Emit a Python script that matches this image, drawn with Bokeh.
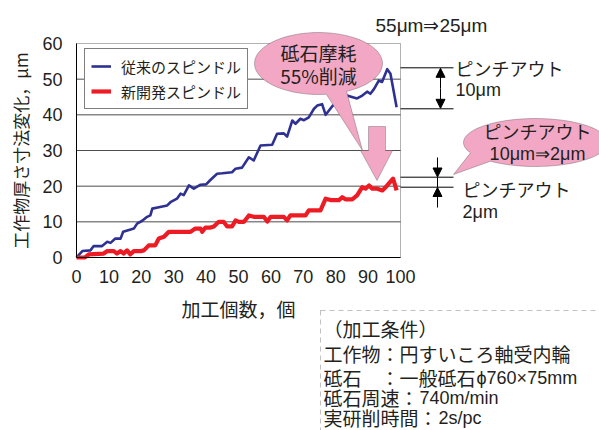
import math
from bokeh.plotting import figure
from bokeh.models import (Range1d, Label, PolyAnnotation, Arrow, NormalHead,
                          BoxAnnotation, Legend, LegendItem, FixedTicker)
from bokeh.embed import file_html
from bokeh.resources import INLINE

# ---------------- data ----------------
count_conv = [0, 1.8, 4.3, 5.3, 7.9, 9.5, 10.5, 12.0, 13.6, 14.4, 16.2, 17.7, 18.7, 20.3,
              21.8, 22.8, 23.4, 25.4, 28.0, 29.0, 31.0, 32.1, 33.1, 34.7, 36.2, 38.3, 40.0,
              41.4, 43.4, 45.0, 48.0, 49.1, 51.1, 53.2, 54.7, 56.8, 60.4, 61.9, 64.0, 65.0,
              66.6, 67.6, 69.1, 70.2, 71.7, 73.3, 74.3, 75.8, 76.9, 79.0, 81.0, 83.5, 85.0,
              86.6, 88.2, 89.7, 90.7, 91.8, 93.3, 94.3, 95.9, 96.9, 98.8]
thick_conv = [0, 1.8, 2.0, 3.2, 3.2, 4.4, 4.1, 5.3, 5.3, 7.2, 7.7, 8.1, 9.5, 10.3,
              11.4, 11.8, 13.7, 14.1, 14.6, 15.5, 16.5, 17.9, 17.5, 20.2, 19.3, 20.4, 20.5,
              21.8, 23.5, 23.6, 23.9, 24.9, 25.2, 28.1, 27.2, 31.4, 31.6, 34.7, 34.8, 33.9,
              38.4, 37.5, 38.9, 38.5, 39.3, 41.7, 42.6, 43.0, 40.0, 42.5, 44.0, 45.4, 45.0,
              44.6, 45.4, 46.5, 45.9, 47.2, 49.6, 49.2, 52.8, 51.5, 42.1]

count_new = [0, 2.6, 3.8, 8.4, 9.5, 11.5, 12.5, 13.6, 14.6, 15.6, 16.6, 17.7, 19.8, 20.8,
             22.3, 24.3, 25.4, 27.0, 28.5, 35.2, 36.7, 38.3, 38.8, 39.8, 41.4, 42.4, 43.9,
             45.4, 46.5, 48.0, 49.1, 50.1, 51.7, 53.2, 54.7, 57.8, 58.9, 59.9, 64.0, 65.0,
             66.0, 68.6, 70.7, 71.7, 75.3, 76.9, 78.4, 81.0, 82.0, 83.0, 85.1, 86.6, 88.2,
             89.2, 90.3, 91.3, 92.8, 94.4, 95.9, 97.7, 98.8]
thick_new = [0, 0, 0.9, 1.1, 1.8, 1.8, 1.1, 1.8, 1.1, 2.0, 0.9, 1.8, 1.8, 2.0,
             3.4, 3.4, 5.3, 5.8, 7.2, 7.2, 8.1, 8.1, 7.2, 8.4, 8.4, 8.7, 10.0,
             10.0, 8.7, 8.7, 10.4, 10.0, 10.0, 11.8, 11.4, 11.4, 10.1, 11.4, 11.4, 10.4,
             11.8, 11.8, 11.8, 13.2, 13.2, 16.5, 16.1, 16.1, 16.9, 16.3, 16.3, 17.4, 19.7,
             19.3, 20.2, 19.3, 19.3, 18.8, 20.2, 22.1, 18.8]

series_names = ["従来のスピンドル", "新開発スピンドル"]
x_ticks = [0, 10, 20, 30, 40, 50, 60, 70, 80, 90, 100]
y_ticks = [0, 10, 20, 30, 40, 50, 60]
x_title = "加工個数，個"
y_title = "工作物厚さ寸法変化，μm"
top_note = "55μm⇒25μm"
bubble1_text = ["砥石摩耗", "55%削減"]
bubble2_text = ["ピンチアウト", "10μm⇒2μm"]
pinch_big = ["ピンチアウト", "10μm"]
pinch_small = ["ピンチアウト", "2μm"]
# (Japanese part, Latin part) of each condition line
conditions = [("（加工条件）", ""),
              ("工作物：円すいころ軸受内輪", ""),
              ("砥石　：一般砥石", "ϕ760×75mm"),
              ("砥石周速：", "740m/min"),
              ("実研削時間：", "2s/pc")]

# ---------------- layout ----------------
W, H = 599, 430
PL, PT, PR, PB = 76.0, 43.0, 400.0, 257.0   # plot box in canvas px
X0, X1 = x_ticks[0], x_ticks[-1]
Y0, Y1 = y_ticks[0], y_ticks[-1]
KX = (PR - PL) / (X1 - X0)
KY = (PB - PT) / (Y1 - Y0)
JP = "Noto Sans CJK JP"
NUM = "Liberation Sans"
PINK = "#f2a8c5"
DARK = "#231f20"

# the frame covers the whole canvas so that the callouts outside the box are not clipped
p = figure(width=W, height=H, output_backend="svg", toolbar_location=None,
           x_range=Range1d(X0 - PL / KX, X0 + (W - PL) / KX),
           y_range=Range1d(Y0 - (H - PB) / KY, Y0 + PB / KY),
           min_border=0)
p.background_fill_color = "white"
p.border_fill_color = "white"
p.outline_line_color = None

def dx(px):
    return X0 + (px - PL) / KX

def dy(py):
    return Y0 + (PB - py) / KY

# horizontal grid lines limited to the plot box
inner = y_ticks[1:-1]
p.segment(x0=[X0] * len(inner), x1=[X1] * len(inner), y0=inner, y1=inner,
          line_color="#4d4d4d", line_width=1)

r_conv = p.line(count_conv, thick_conv, line_color="#2e3192", line_width=2.6, line_join="round")
r_new = p.line(count_new, thick_new, line_color="#ed1c24", line_width=4.2, line_join="round")

p.xaxis.ticker = FixedTicker(ticks=x_ticks)
p.yaxis.ticker = FixedTicker(ticks=y_ticks)
p.xaxis.fixed_location = Y0
p.yaxis.fixed_location = X0
p.xaxis.bounds = (X0, X1)
p.yaxis.bounds = (Y0, Y1)
for ax in (p.xaxis, p.yaxis):
    ax.axis_line_color = "black"
    ax.axis_line_width = 1
    ax.major_tick_line_color = None
    ax.minor_tick_line_color = None
    ax.major_label_text_font = NUM
    ax.major_label_text_font_size = "18px"
    ax.major_label_text_color = DARK
    ax.axis_label_text_font = JP
    ax.axis_label_text_font_style = "normal"
    ax.axis_label_text_color = DARK
p.xaxis.axis_label = x_title
p.yaxis.axis_label = y_title
p.xaxis.axis_label_text_font_size = "19px"
p.yaxis.axis_label_text_font_size = "17px"
p.xaxis.major_label_standoff = 6
p.yaxis.major_label_standoff = 8
p.xaxis.axis_label_standoff = 9
p.yaxis.axis_label_standoff = 6
p.grid.visible = False

# plot box outline
p.add_layout(BoxAnnotation(left=X0, right=X1, bottom=Y0, top=Y1, fill_alpha=0,
                           line_color="black", line_width=1))

legend = Legend(items=[LegendItem(label=series_names[0], renderers=[r_conv]),
                       LegendItem(label=series_names[1], renderers=[r_new])],
                location=(84, H - 52 - 57), padding=6, spacing=3,
                glyph_width=20, glyph_height=22, label_standoff=10,
                label_text_font=JP, label_text_font_size="15px", label_text_color=DARK,
                border_line_color="black", border_line_width=1.2,
                background_fill_color="white", background_fill_alpha=1)
p.add_layout(legend)

def label(px, py, text, font=JP, size="17px", align="left", baseline="middle"):
    p.add_layout(Label(x=dx(px), y=dy(py), text=text, text_font=font, text_font_size=size,
                       text_align=align, text_baseline=baseline, text_color=DARK))

def seg(x0, y0, x1, y1, end=None, start=None):
    p.add_layout(Arrow(x_start=dx(x0), y_start=dy(y0), x_end=dx(x1), y_end=dy(y1),
                       start=start, end=end, line_color="black", line_width=1))

def head():
    return NormalHead(size=9, fill_color="black", line_color="black")

def bubble(cx, cy, rx, ry, a0, a1, tip, n=90):
    xs, ys = [], []
    for i in range(n + 1):
        t = math.radians(a0 + (a1 - a0) * i / n)
        xs.append(dx(cx + rx * math.cos(t)))
        ys.append(dy(cy + ry * math.sin(t)))
    xs.append(dx(tip[0]))
    ys.append(dy(tip[1]))
    p.add_layout(PolyAnnotation(xs=xs, ys=ys, fill_color=PINK, fill_alpha=1,
                                line_color="#333333", line_width=1))

# top note
label(375, 25, top_note, font=NUM, size="19px")

# bubble 1 (wheel wear)
bubble(318, 63, 64, 31, 83, 424, (362, 150))
label(318, 52, bubble1_text[0], align="center", size="19px")
label(318, 75, bubble1_text[1], align="center", size="19px")

# pink down arrow
arr_x = [368, 385, 385, 392, 376.5, 360, 368]
arr_y = [126, 126, 150, 150, 180, 150, 150]
p.add_layout(PolyAnnotation(xs=[dx(v) for v in arr_x], ys=[dy(v) for v in arr_y],
                            fill_color=PINK, fill_alpha=1, line_color="#333333", line_width=1))

# pinch-out 10um marker
seg(400, 67.3, 453, 67.3)
seg(400, 108.3, 453, 108.3)
seg(440, 88, 440, 67.8, end=head())
seg(440, 88, 440, 107.8, end=head())
label(455, 67, pinch_big[0], size="18px")
label(455, 89, pinch_big[1], font=NUM, size="18px")

# pinch-out 2um marker
seg(400, 176.7, 453, 176.7)
seg(400, 186.7, 453, 186.7)
seg(437, 157, 437, 176.5, end=head())
seg(437, 207, 437, 187, end=head())
seg(437, 176.7, 437, 186.7)
label(462, 188, pinch_small[0], size="18px")
label(462, 211, pinch_small[1], font=NUM, size="18px")

# bubble 2
bubble(535, 142, 72, 24, 154.5, 488.7, (453, 174))
label(537, 130, bubble2_text[0], align="center", size="18px")
label(537, 153, bubble2_text[1], align="center", font=NUM, size="18px")

# condition box
p.add_layout(BoxAnnotation(left=dx(320), right=dx(720), top=dy(310), bottom=dy(520),
                           fill_alpha=0, line_color="#333333", line_width=1, line_dash="5 4"))
CS = 19
for (jp, lat), yy in zip(conditions, [328, 353, 377, 397, 417]):
    label(323, yy, jp, size=f"{CS}px")
    if lat:
        label(323 + CS * len(jp) + 1, yy, lat, font=NUM, size="18px")

open("out.html", "w").write(file_html(p, INLINE))
